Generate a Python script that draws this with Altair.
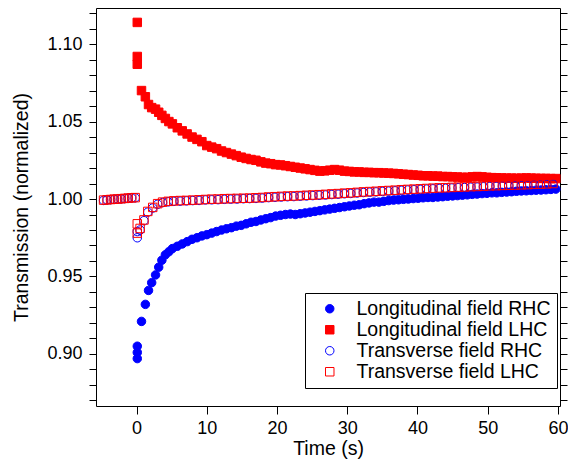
import altair as alt
import pandas as pd

SERIES = ["Longitudinal field RHC", "Longitudinal field LHC",
          "Transverse field RHC", "Transverse field LHC"]
FILLS = ["#0000ff", "#ff0000", "transparent", "transparent"]
STROKES = ["#0000ff", "#ff0000", "#0000ff", "#ff0000"]
SHAPES = ["circle", "square", "circle", "square"]
SIZES = [72, 72, 42, 56]

X_TICKS = [0, 10, 20, 30, 40, 50, 60]
Y_TICKS = [0.87, 0.88, 0.89, 0.90, 0.91, 0.92, 0.93, 0.94, 0.95, 0.96, 0.97,
           0.98, 0.99, 1.00, 1.01, 1.02, 1.03, 1.04, 1.05, 1.06, 1.07, 1.08,
           1.09, 1.10, 1.11, 1.12]

t_long = [0.1, 0.1, 0.1, 0.7, 1.25, 1.7, 2.15, 2.7, 3.15, 3.6, 4.1, 4.6, 5.1,
          5.8, 6.5, 7.2, 7.9, 8.6, 9.3, 10.0, 10.7, 11.4, 12.1, 12.8, 13.5, 14.2,
          14.9, 15.6, 16.3, 17.0, 17.7, 18.4, 19.1, 19.8, 20.5, 21.2, 21.9, 22.6,
          23.3, 24.0, 24.7, 25.4, 26.1, 26.8, 27.5, 28.2, 28.9, 29.6, 30.3, 31.0,
          31.7, 32.4, 33.1, 33.8, 34.5, 35.2, 35.9, 36.6, 37.3, 38.0, 38.7, 39.4,
          40.1, 40.8, 41.5, 42.2, 42.9, 43.6, 44.3, 45.0, 45.7, 46.4, 47.1, 47.8,
          48.5, 49.2, 49.9, 50.6, 51.3, 52.0, 52.7, 53.4, 54.1, 54.8, 55.5, 56.2,
          56.9, 57.6, 58.3, 59.0, 59.7]

long_rhc = [0.897, 0.901, 0.905, 0.921, 0.932, 0.941, 0.946, 0.951, 0.956, 0.9605,
            0.964, 0.966, 0.968,
            0.9695, 0.971, 0.9725, 0.974, 0.975, 0.9762, 0.977, 0.978, 0.979, 0.980,
            0.9808, 0.9815, 0.9825, 0.983, 0.984, 0.985, 0.9855, 0.9865, 0.9873,
            0.988, 0.989, 0.9895, 0.990, 0.9903, 0.9900, 0.9905, 0.991, 0.9915,
            0.992, 0.9925, 0.993, 0.9935, 0.994, 0.9945, 0.995, 0.9955, 0.996,
            0.9963, 0.997, 0.9975, 0.998, 0.998, 0.9985, 0.999, 0.9993, 0.9995,
            0.9998, 1.0000, 1.0003, 1.0005, 1.0008, 1.0010, 1.0010, 1.0013, 1.0015,
            1.0018, 1.0020, 1.0022, 1.0025, 1.0027, 1.0030, 1.0032, 1.0035, 1.0037,
            1.0040, 1.0040, 1.0043, 1.0045, 1.0047, 1.0050, 1.0052, 1.0053, 1.0055,
            1.0057, 1.0058, 1.0060, 1.0062, 1.0064]

long_lhc = [1.114, 1.092, 1.087, 1.070, 1.066, 1.061, 1.059, 1.058, 1.056, 1.054,
            1.052, 1.050, 1.0485,
            1.046, 1.044, 1.042, 1.040, 1.0385, 1.037, 1.0345, 1.0335, 1.0325, 1.031,
            1.030, 1.029, 1.028, 1.027, 1.0262, 1.0255, 1.025, 1.024, 1.0232, 1.0228,
            1.0222, 1.022, 1.0215, 1.021, 1.0205, 1.020, 1.0195, 1.019, 1.0185,
            1.0180, 1.0182, 1.0186, 1.019, 1.0186, 1.018, 1.0178, 1.0175, 1.0175,
            1.0172, 1.0172, 1.017, 1.017, 1.0168, 1.0167, 1.0165, 1.0163, 1.016,
            1.0158, 1.0155, 1.0153, 1.015, 1.015, 1.0148, 1.0148, 1.0145, 1.0145,
            1.0143, 1.0142, 1.014, 1.014, 1.0143, 1.0145, 1.0143, 1.014, 1.0138,
            1.0137, 1.0136, 1.0135, 1.0135, 1.0134, 1.0135, 1.0136, 1.0135, 1.0134,
            1.0133, 1.0133, 1.0132, 1.0132]

t_trans = [-4.7, -4.2, -3.7, -3.2, -2.7, -2.2, -1.7, -1.2, -0.7, -0.2,
           0.1, 0.1,
           0.5, 1.05, 1.6, 2.3, 3.0, 3.7, 4.5,
           5.3, 6.2, 7.1, 8.0, 8.9, 9.8, 10.7, 11.6, 12.5, 13.4, 14.3, 15.2, 16.1,
           17.0, 17.9, 18.8, 19.7, 20.6, 21.5, 22.4, 23.3, 24.2, 25.1, 26.0, 26.9,
           27.8, 28.7, 29.6, 30.5, 31.4, 32.3, 33.2, 34.1, 35.0, 35.9, 36.8, 37.7,
           38.6, 39.5, 40.4, 41.3, 42.2, 43.1, 44.0, 44.9, 45.8, 46.7, 47.6, 48.5,
           49.4, 50.3, 51.2, 52.1, 53.0, 53.9, 54.8, 55.7, 56.6, 57.5, 58.4, 59.3]

trans_lhc = [0.9993, 0.9995, 0.9997, 0.9999, 1.0000, 1.0002, 1.0004, 1.0006, 1.0008, 1.0009,
             0.984, 0.978,
             0.981, 0.9865, 0.992, 0.9946, 0.997, 0.998, 0.9985,
             0.9988, 0.9990, 0.9991, 0.9993, 0.9995, 0.9997, 0.9999, 1.0000, 1.0002,
             1.0003, 1.0004, 1.0005, 1.0006, 1.0008, 1.0010, 1.0013, 1.0015, 1.0017,
             1.0019, 1.0020, 1.0022, 1.0024, 1.0026, 1.0028, 1.0030, 1.0033, 1.0035,
             1.0038, 1.0040, 1.0043, 1.0046, 1.0048, 1.0050, 1.0053, 1.0055, 1.0057,
             1.0060, 1.0062, 1.0064, 1.0066, 1.0068, 1.0070, 1.0072, 1.0073, 1.0075,
             1.0077, 1.0078, 1.0080, 1.0081, 1.0083, 1.0085, 1.0086, 1.0088, 1.0089,
             1.0090, 1.0092, 1.0093, 1.0095, 1.0096, 1.0098, 1.0100]

trans_rhc = [0.9991, 0.9994, 0.9996, 0.9998, 0.9999, 1.0001, 1.0003, 1.0005, 1.0007, 1.0008,
             0.979, 0.975,
             0.980, 0.986, 0.9915, 0.9942, 0.9966, 0.9977, 0.9982,
             0.9985, 0.9986, 0.9988, 0.9990, 0.9991, 0.9994, 0.9995, 0.9996, 0.9998,
             0.9999, 1.0000, 1.0002, 1.0003, 1.0004, 1.0006, 1.0009, 1.0011, 1.0013,
             1.0015, 1.0016, 1.0018, 1.0020, 1.0022, 1.0024, 1.0026, 1.0029, 1.0031,
             1.0034, 1.0036, 1.0039, 1.0042, 1.0044, 1.0046, 1.0049, 1.0051, 1.0053,
             1.0056, 1.0058, 1.0060, 1.0062, 1.0064, 1.0066, 1.0068, 1.0069, 1.0071,
             1.0073, 1.0074, 1.0076, 1.0077, 1.0079, 1.0081, 1.0082, 1.0084, 1.0085,
             1.0086, 1.0088, 1.0089, 1.0091, 1.0092, 1.0094, 1.0096]

rows = []
for name, ts, vs in [(SERIES[0], t_long, long_rhc), (SERIES[1], t_long, long_lhc),
                     (SERIES[2], t_trans, trans_rhc), (SERIES[3], t_trans, trans_lhc)]:
    for t, v in zip(ts, vs):
        rows.append({"t": t, "v": v, "series": name})
df = pd.DataFrame(rows)

FONT = "Liberation Sans"
x_scale = alt.Scale(domain=[-5.78, 60.3], nice=False, zero=False)
y_scale = alt.Scale(domain=[0.8664, 1.1233], nice=False, zero=False)

legend = alt.Legend(
    title=None, orient="none", legendX=209, legendY=285,
    labelFont=FONT, labelFontSize=19.5, labelColor="black", labelLimit=0,
    strokeColor="black", fillColor="white", padding=6,
    rowPadding=0, symbolOffset=9, labelOffset=17, symbolStrokeWidth=1,
)

main = alt.Chart(df).mark_point(opacity=1, strokeWidth=1).encode(
    x=alt.X("t:Q", scale=x_scale, axis=alt.Axis(
        title="Time (s)", values=X_TICKS, tickSize=8, labelPadding=5,
        titlePadding=2, labelFlush=False, grid=False, domain=False)),
    y=alt.Y("v:Q", scale=y_scale, axis=alt.Axis(
        title="Transmission (normalized)", values=Y_TICKS, tickSize=7,
        labelExpr="(round(datum.value*100) % 5 == 0) ? format(datum.value, '.2f') : ''",
        labelOverlap=False, labelPadding=7, titlePadding=15, grid=False, domain=False)),
    shape=alt.Shape("series:N", scale=alt.Scale(domain=SERIES, range=SHAPES), legend=legend),
    fill=alt.Fill("series:N", scale=alt.Scale(domain=SERIES, range=FILLS), legend=legend),
    stroke=alt.Stroke("series:N", scale=alt.Scale(domain=SERIES, range=STROKES), legend=legend),
    size=alt.Size("series:N", scale=alt.Scale(domain=SERIES, range=SIZES), legend=legend),
)

mirror = alt.Chart(df).mark_point(opacity=0).encode(
    x=alt.X("t:Q", scale=x_scale, axis=None),
    y=alt.Y("v:Q", scale=y_scale, axis=alt.Axis(
        orient="right", values=Y_TICKS, tickSize=7, labels=False, title=None,
        grid=False, domain=False)),
)

chart = alt.layer(main, mirror).resolve_axis(x="independent", y="independent").properties(
    width=464, height=398,
    autosize=alt.AutoSizeParams(type="none"),
    padding={"left": 88, "top": 0, "right": 8, "bottom": 54},
).configure_view(stroke="black", strokeWidth=1).configure_axis(
    labelFont=FONT, titleFont=FONT, labelFontSize=18, titleFontSize=19.5,
    titleFontWeight="normal", labelColor="black", titleColor="black",
    tickColor="black", tickWidth=1,
)

chart.save("out.html", embed_options={"renderer": "svg", "actions": False})
